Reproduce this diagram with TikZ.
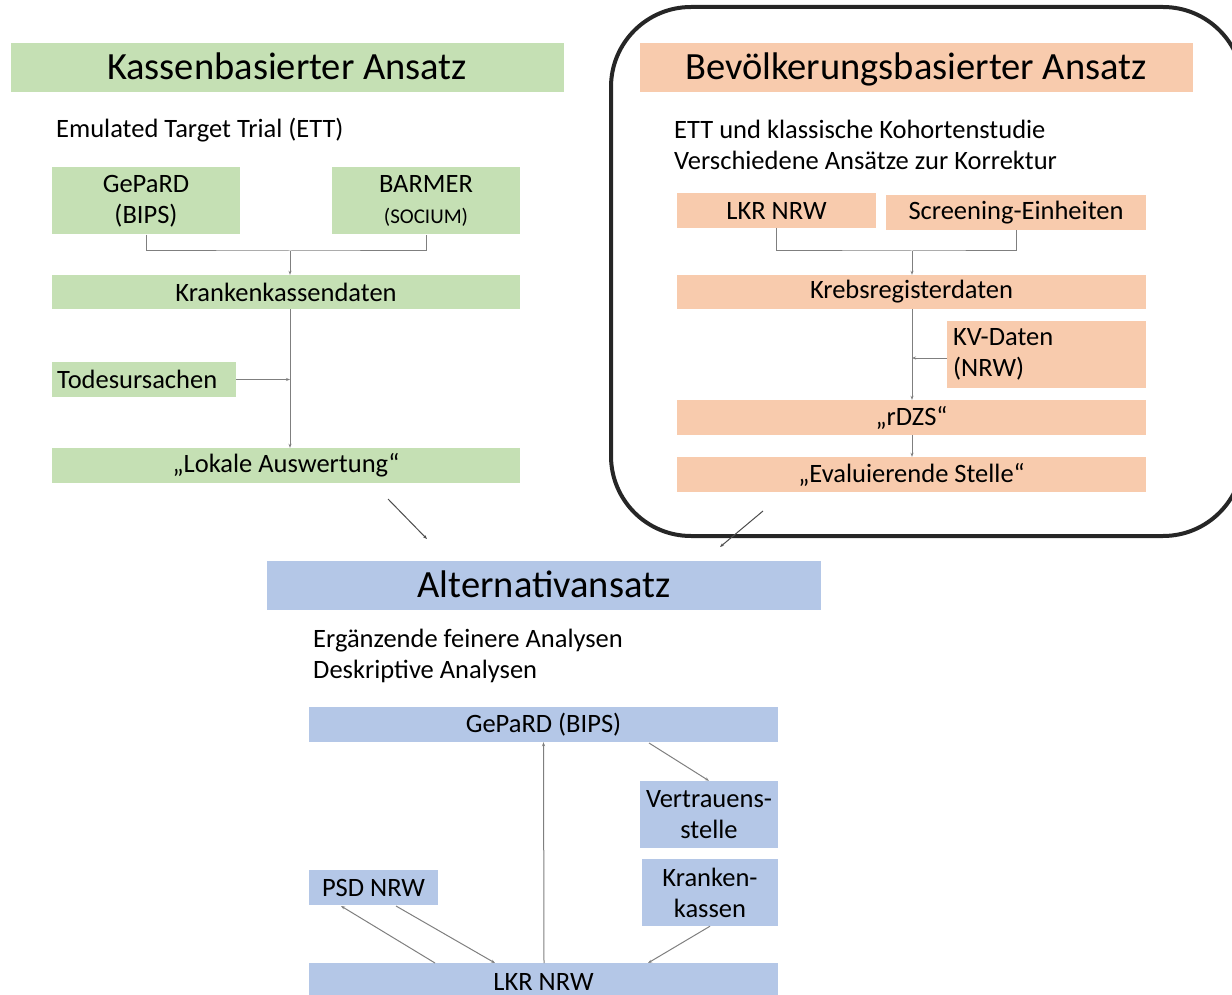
\documentclass[tikz,border=0pt]{standalone}
\usepackage{fontspec}
\setmainfont{Carlito}
\usetikzlibrary{arrows.meta}
\definecolor{kgreen}{HTML}{C5E0B4}
\definecolor{borange}{HTML}{F8CBAD}
\definecolor{ablue}{HTML}{B4C7E7}
\definecolor{linegray}{HTML}{7F7F7F}
\begin{document}
\begin{tikzpicture}[x=1pt,y=-1pt]
    \tikzstyle{box}=[inner sep=0pt,align=center,font=\fontsize{26.5}{31}\selectfont]
    \tikzstyle{head}=[inner sep=0pt,minimum width=553pt,minimum height=49pt,text height=27pt,text depth=4pt,font=\fontsize{38.5}{44}\selectfont]
    \tikzstyle{txt}=[inner sep=0pt,anchor=west,align=left,font=\fontsize{26.5}{31}\selectfont]
    \tikzstyle{conn}=[draw=linegray,line width=1pt,-{Stealth[length=4pt,width=3pt]}]
    \tikzstyle{plain}=[draw=linegray,line width=1pt]
    \useasboundingbox (0,0) rectangle (1232,995);
    \clip (0,0) rectangle (1232,995);

    % frame
    \draw[line width=4pt,color=black!85,rounded corners=80pt] (611,7) rectangle (1243,536);

    % Kassenbasierter Ansatz
      \node (KA) at (287,68) [head,fill=kgreen] {Kassenbasierter Ansatz};
      \node (ETT) at (56,130) [txt] {Emulated Target Trial (ETT)};
      \node (GePaRD) at (146,201) [box,fill=kgreen,minimum width=188pt,minimum height=67pt] {GePaRD\\(BIPS)};
      \node (BARMER) at (426,201) [box,fill=kgreen,minimum width=188pt,minimum height=67pt] {BARMER\\{\fontsize{21}{24}\selectfont (SOCIUM)}};
      \node (KKD) at (286,292) [box,fill=kgreen,minimum width=468pt,minimum height=34pt] {Krankenkassendaten};
      \node (TU) at (52,379.5) [box,fill=kgreen,anchor=west,minimum width=184pt,minimum height=35pt,text width=180pt,align=left] {\hspace*{3pt}Todesursachen};
      \node (LA) at (286,465.5) [box,fill=kgreen,minimum width=468pt,minimum height=35pt] {„Lokale Auswertung“};
      \coordinate (kj) at (290,251);
      \coordinate (tj) at (290,379.5);

      \draw[plain] (GePaRD.south) |- (kj) -| (BARMER.south);
      \path[conn] (kj) -- (kj |- KKD.north);
      \path[conn] (kj |- KKD.south) -- (kj |- LA.north);
      \path[conn] (TU.east) -- (tj);

    % Bevoelkerungsbasierter Ansatz
      \node (BA) at (916,68) [head,fill=borange] {Bevölkerungsbasierter Ansatz};
      \node (ETTK) at (674,145) [txt] {ETT und klassische Kohortenstudie\\Verschiedene Ansätze zur Korrektur};
      \node (LKR) at (776.5,210.5) [box,fill=borange,minimum width=199pt,minimum height=35pt] {LKR NRW};
      \node (SE) at (1016,212.5) [box,fill=borange,minimum width=260pt,minimum height=35pt] {Screening-Einheiten};
      \node (KRD) at (911.5,292) [box,fill=borange,minimum width=469pt,minimum height=34pt] {Krebsregisterdaten};
      \node (KV) at (947,354.5) [box,fill=borange,anchor=west,minimum width=199pt,minimum height=67pt,text width=193pt,align=left] {\hspace*{3pt}KV-Daten\\\hspace*{3pt}(NRW)};
      \node (rDZS) at (911.5,417.5) [box,fill=borange,minimum width=469pt,minimum height=35pt] {„rDZS“};
      \node (ES) at (911.5,474.5) [box,fill=borange,minimum width=469pt,minimum height=35pt] {„Evaluierende Stelle“};
      \coordinate (bj) at (912,251);
      \coordinate (vj) at (912,358);

      \draw[plain] (LKR.south) |- (bj) -| (SE.south);
      \path[conn] (bj) -- (bj |- KRD.north);
      \path[conn] (bj |- KRD.south) -- (bj |- rDZS.north);
      \path[conn] (KV.west |- vj) -- (vj);
      \path[conn] (bj |- rDZS.south) -- (bj |- ES.north);

    % Alternativansatz
      \node (AA) at (544,585.5) [head,fill=ablue,minimum width=554pt] {Alternativansatz};
      \coordinate (la) at (388,499);
      \coordinate (ra) at (763,511);
      \path[conn,draw=black!70] (la) -- (427,539);
      \path[conn,draw=black!70] (ra) -- (720,547);
      \node (ERG) at (313,656) [txt] {Ergänzende feinere Analysen\\Deskriptive Analysen};
      \node (GB) at (543.5,724.5) [box,fill=ablue,minimum width=469pt,minimum height=35pt] {GePaRD (BIPS)};
      \node (VS) at (709,814.5) [box,fill=ablue,minimum width=138pt,minimum height=67pt] {Vertrauens-\\stelle};
      \node (KK) at (710,892.5) [box,fill=ablue,minimum width=136pt,minimum height=67pt] {Kranken-\\kassen};
      \node (PSD) at (373.5,887.5) [box,fill=ablue,minimum width=129pt,minimum height=35pt] {PSD NRW};
      \node (LKRA) at (543.5,981) [box,fill=ablue,minimum width=469pt,minimum height=36pt,text depth=0pt] {\raisebox{-1pt}{LKR NRW}};

      \path[conn] (544,963) -- (GB.south);
      \path[conn] (649,743) -- (VS.north);
      \path[conn] (435,963) -- (341,906);
      \path[conn] (396,906) -- (495,963);
      \path[conn] (KK.south) -- (648,963);
  \end{tikzpicture}
\end{document}
